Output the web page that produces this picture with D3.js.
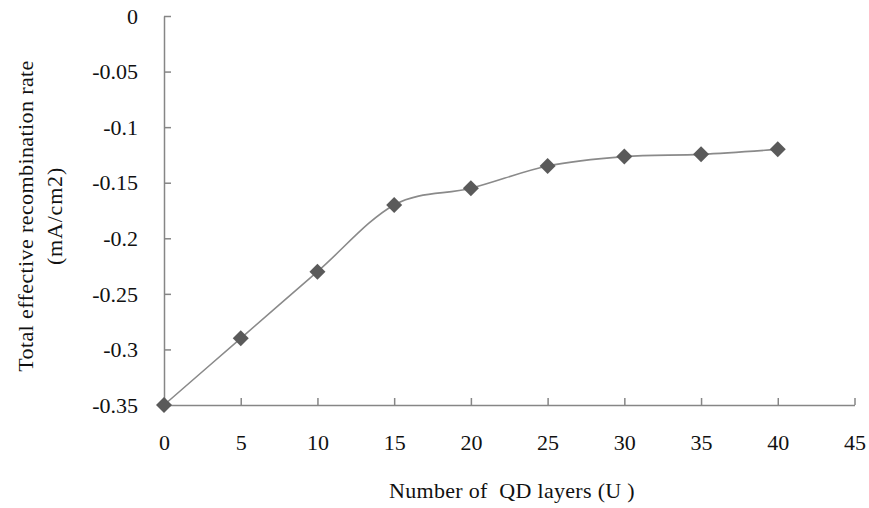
<!DOCTYPE html>
<html>
<head>
<meta charset="utf-8">
<script src="https://cdn.jsdelivr.net/npm/d3@7"></script>
<style>
  html, body { margin: 0; padding: 0; background: #fff; }
  svg { display: block; }
  text { font-family: "Liberation Serif", "Times New Roman", serif; fill: #111; }
</style>
</head>
<body>
<svg id="chart" width="869" height="508"></svg>
<script>
const layers = [0, 5, 10, 15, 20, 25, 30, 35, 40];
const recombRate = [-0.35, -0.29, -0.23, -0.17, -0.155, -0.135, -0.1265, -0.1245, -0.12];
const xTicks = [0, 5, 10, 15, 20, 25, 30, 35, 40, 45];
const yTicks = [0, -0.05, -0.1, -0.15, -0.2, -0.25, -0.3, -0.35];
const xTitle = "Number of  QD layers (U )";
const yTitleLines = ["Total effective recombination rate", "(mA/cm2)"];

const svg = d3.select("#chart");
const x = d3.scaleLinear().domain([0, 45]).range([164, 854.5]);
const y = d3.scaleLinear().domain([-0.35, 0]).range([405, 16]);

const axisColor = "#868686";

// X axis
const gx = svg.append("g").attr("transform", `translate(0,${y(-0.35)})`)
  .call(d3.axisBottom(x).tickValues(xTicks).tickSizeInner(-7).tickSizeOuter(0).tickFormat(d3.format("d")));
gx.select(".domain").attr("stroke", axisColor).attr("stroke-width", 1.5);
gx.selectAll(".tick line").attr("stroke", axisColor).attr("stroke-width", 1.5);
gx.selectAll(".tick text").attr("y", 45).attr("dy", 0)
  .style("font-size", "22px").style("font-family", "Liberation Serif, serif").attr("fill", "#111");

// Y axis
const gy = svg.append("g").attr("transform", `translate(${x(0)},0)`)
  .call(d3.axisLeft(y).tickValues(yTicks).tickSizeInner(-7).tickSizeOuter(0)
    .tickFormat(d => d === 0 ? "0" : String(d)));
gy.select(".domain").attr("stroke", axisColor).attr("stroke-width", 1.5);
gy.selectAll(".tick line").attr("stroke", axisColor).attr("stroke-width", 1.5);
gy.selectAll(".tick text").attr("x", -26).attr("dy", "0.33em")
  .style("font-size", "22px").style("font-family", "Liberation Serif, serif").attr("fill", "#111");

// Line
const data = layers.map((d, i) => ({ x: d, y: recombRate[i] }));
const line = d3.line().x(d => x(d.x)).y(d => y(d.y)).curve(d3.curveCardinal.tension(0));
svg.append("path").datum(data).attr("d", line)
  .attr("fill", "none").attr("stroke", "#8a8a8a").attr("stroke-width", 1.6);

// Markers
svg.append("g").selectAll("path").data(data).join("path")
  .attr("transform", d => `translate(${x(d.x)},${y(d.y)})`)
  .attr("d", "M0,-8L8,0L0,8L-8,0Z")
  .attr("fill", "#5a5a5a");

// Axis titles
svg.append("text").attr("x", 512).attr("y", 498).attr("text-anchor", "middle")
  .style("font-size", "22px").style("white-space", "pre").style("letter-spacing", "0.3px")
  .text(xTitle);

yTitleLines.forEach((t, i) => {
  svg.append("text")
    .attr("transform", `translate(${[25, 54][i]},216) rotate(-90)`)
    .attr("text-anchor", "middle").attr("dominant-baseline", "central")
    .style("font-size", "22px").style("letter-spacing", i === 0 ? "0.4px" : "0.8px")
    .text(t);
});
</script>
</body>
</html>
